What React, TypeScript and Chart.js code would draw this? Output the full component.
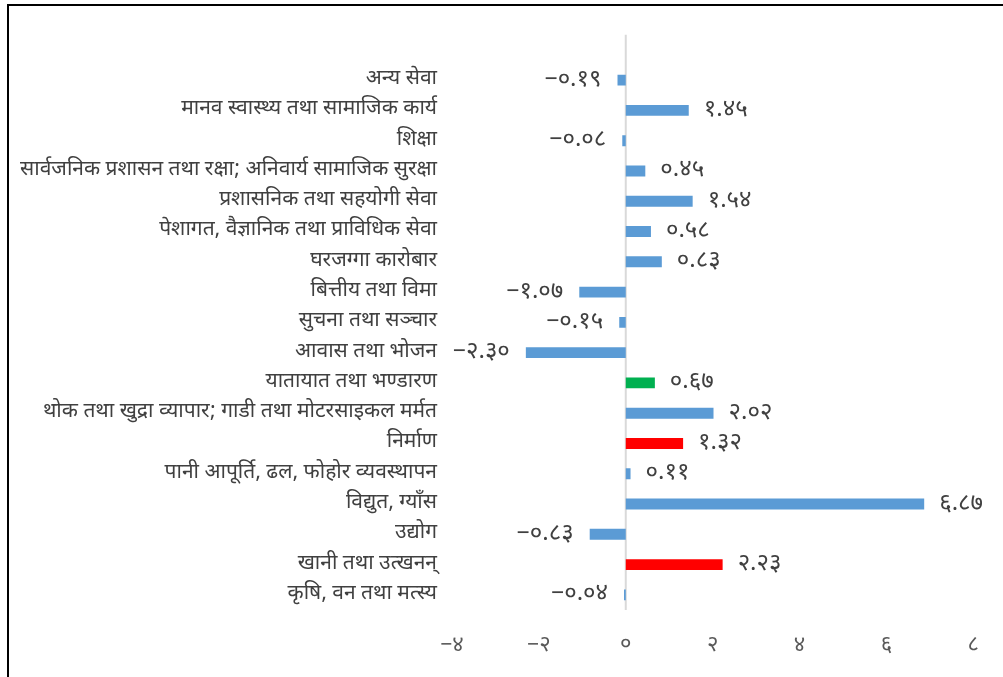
import React, { useEffect, useRef } from 'react';
import { Chart, registerables } from 'chart.js';

Chart.register(...registerables);

const categories: string[] = [
  'अन्य सेवा',
  'मानव स्वास्थ्य तथा सामाजिक कार्य',
  'शिक्षा',
  'सार्वजनिक प्रशासन तथा रक्षा; अनिवार्य सामाजिक सुरक्षा',
  'प्रशासनिक तथा सहयोगी सेवा',
  'पेशागत, वैज्ञानिक तथा प्राविधिक सेवा',
  'घरजग्गा कारोबार',
  'बित्तीय तथा विमा',
  'सुचना तथा सञ्चार',
  'आवास तथा भोजन',
  'यातायात तथा भण्डारण',
  'थोक तथा खुद्रा व्यापार; गाडी तथा मोटरसाइकल मर्मत',
  'निर्माण',
  'पानी आपूर्ति, ढल, फोहोर व्यवस्थापन',
  'विद्युत, ग्याँस',
  'उद्योग',
  'खानी तथा उत्खनन्',
  'कृषि, वन तथा मत्स्य',
];

const values: number[] = [
  -0.19, 1.45, -0.08, 0.45, 1.54, 0.58, 0.83, -1.07, -0.15, -2.3,
  0.67, 2.02, 1.32, 0.11, 6.87, -0.83, 2.23, -0.04,
];

const redCategories: string[] = ['निर्माण', 'खानी तथा उत्खनन्'];
const greenCategories: string[] = ['यातायात तथा भण्डारण'];

const xMin = -4;
const xMax = 8;
const xStep = 2;

const BLUE = '#5B9BD5';
const RED = '#FF0000';
const GREEN = '#00B050';

const FONT = '"Noto Sans Devanagari", "Noto Sans", sans-serif';

const DEV_DIGITS = '०१२३४५६७८९';
const toDev = (s: string) =>
  s.replace(/[0-9]/g, (d) => DEV_DIGITS[Number(d)]).replace('-', '−');

const barColors = categories.map((c) =>
  redCategories.includes(c) ? RED : greenCategories.includes(c) ? GREEN : BLUE
);

const decorPlugin = {
  id: 'decor',
  beforeDraw(chart: any) {
    const { ctx, width, height } = chart;
    ctx.save();
    ctx.fillStyle = '#ffffff';
    ctx.fillRect(0, 0, width, height);
    ctx.strokeStyle = '#000000';
    ctx.lineWidth = 2;
    ctx.strokeRect(8, 5, width + 50, height + 50);
    ctx.restore();
  },
  beforeDatasetsDraw(chart: any) {
    const { ctx, chartArea, scales } = chart;
    const x0 = scales.x.getPixelForValue(0);
    const spacing = (chartArea.bottom - chartArea.top) / categories.length;
    ctx.save();
    ctx.strokeStyle = '#d9d9d9';
    ctx.lineWidth = 2;
    ctx.beginPath();
    ctx.moveTo(x0, chartArea.top - spacing);
    ctx.lineTo(x0, chartArea.bottom);
    ctx.stroke();
    ctx.restore();
  },
  afterDatasetsDraw(chart: any) {
    const { ctx } = chart;
    const meta = chart.getDatasetMeta(0);
    ctx.save();
    ctx.font = `24px ${FONT}`;
    ctx.fillStyle = '#404040';
    ctx.textBaseline = 'middle';
    meta.data.forEach((bar: any, i: number) => {
      const v = values[i];
      const txt = toDev(v.toFixed(2));
      if (v >= 0) {
        ctx.textAlign = 'left';
        ctx.fillText(txt, bar.x + 15, bar.y + 1);
      } else {
        ctx.textAlign = 'right';
        ctx.fillText(txt, bar.x - 16, bar.y + 1);
      }
    });
    ctx.restore();
  },
};

export default function App() {
  const ref = useRef<HTMLCanvasElement | null>(null);

  useEffect(() => {
    if (!ref.current) return;
    const chart = new Chart(ref.current, {
      type: 'bar',
      data: {
        labels: categories,
        datasets: [
          {
            data: values,
            backgroundColor: barColors,
            barPercentage: 0.36,
            categoryPercentage: 1,
          },
        ],
      },
      options: {
        indexAxis: 'y',
        responsive: false,
        animation: false,
        layout: { padding: { top: 65, right: 27, left: 0, bottom: 0 } },
        plugins: {
          legend: { display: false },
          tooltip: { enabled: false },
        },
        scales: {
          x: {
            type: 'linear',
            min: xMin,
            max: xMax,
            grid: { display: false, drawTicks: false },
            border: { display: false },
            ticks: {
              stepSize: xStep,
              padding: 24,
              color: '#595959',
              font: { size: 22, family: FONT },
              callback: (v: any) => toDev(String(v)),
            },
            afterFit: (scale: any) => {
              scale.height = 67;
            },
          },
          y: {
            type: 'category',
            grid: { display: false, drawTicks: false },
            border: { display: false },
            ticks: {
              padding: 15,
              color: '#404040',
              font: { size: 21, family: FONT },
              autoSkip: false,
            },
            afterFit: (scale: any) => {
              scale.width = 452;
            },
          },
        },
      },
      plugins: [decorPlugin],
    });
    return () => chart.destroy();
  }, []);

  return (
    <div style={{ position: 'absolute', left: 0, top: 0, width: 1003, height: 677, overflow: 'hidden' }}>
      <canvas ref={ref} width={1003} height={677} style={{ display: 'block' }} />
    </div>
  );
}
